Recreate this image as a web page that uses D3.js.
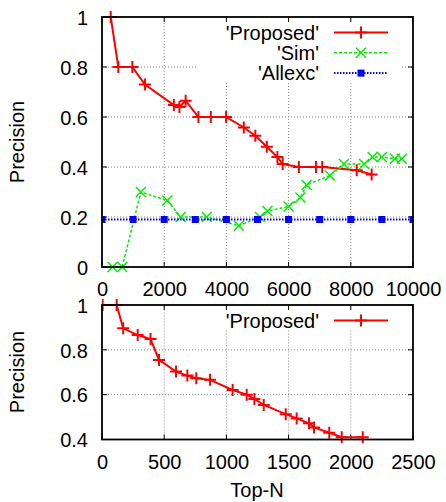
<html>
<head>
<script src="https://cdn.jsdelivr.net/npm/d3@7"></script>
<style>
  body { margin: 0; background: #fff; }
  text { font-family: "Liberation Sans", Arial, sans-serif; fill: #000; }
</style>
</head>
<body>
<svg width="446" height="502"></svg>
<script>
// top panel
const proposedTop = [[280,1.0],[525,0.8],[975,0.8],[1380,0.73],[2310,0.648],[2490,0.64],[2690,0.665],
  [3100,0.6],[3500,0.6],[3990,0.6],[4560,0.558],[4930,0.525],[5300,0.481],[5640,0.44],[5810,0.412],
  [6330,0.4],[6880,0.4],[7080,0.4],[8190,0.387],[8670,0.37]];
const simTop = [[340,0],[650,0],[1250,0.3],[2100,0.266],[2530,0.2],[3370,0.2],[4400,0.165],[5080,0.2],
  [5320,0.224],[6000,0.242],[6380,0.278],[6580,0.328],[7330,0.366],[7780,0.412],[8430,0.412],
  [8700,0.44],[9000,0.44],[9420,0.433],[9640,0.433]];
const allexcTop = [[0,0.19],[1000,0.19],[2000,0.19],[3000,0.19],[4000,0.19],[5000,0.19],
  [6000,0.19],[7000,0.19],[8000,0.19],[9000,0.19],[10000,0.19]];
const topXTicks = [0,2000,4000,6000,8000,10000];
const topYTicks = [0,0.2,0.4,0.6,0.8,1];

// bottom panel
const proposedBottom = [[5,1],[118,1],[170,0.896],[287,0.866],[390,0.848],[458,0.755],[595,0.703],
  [686,0.685],[758,0.673],[868,0.666],[1050,0.621],[1163,0.6],[1225,0.581],[1300,0.554],[1477,0.513],
  [1565,0.494],[1664,0.472],[1704,0.454],[1827,0.43],[1927,0.41],[2096,0.41]];
const bottomXTicks = [0,500,1000,1500,2000,2500];
const bottomYTicks = [0.4,0.6,0.8,1];

const svg = d3.select("svg");
const fs = 20;

function marker(g, kind, color, x, y) {
  if (kind === "plus") {
    g.append("path").attr("d", `M${x-6},${y}H${x+6}M${x},${y-6}V${y+6}`)
      .attr("stroke", color).attr("stroke-width", 2).attr("fill", "none");
  } else if (kind === "cross") {
    g.append("path").attr("d", `M${x-5},${y-5}L${x+5},${y+5}M${x-5},${y+5}L${x+5},${y-5}`)
      .attr("stroke", color).attr("stroke-width", 1.5).attr("fill", "none");
  } else {
    g.append("rect").attr("x", x-3.5).attr("y", y-3.5).attr("width", 7).attr("height", 7).attr("fill", color);
  }
}

function panel(opt) {
  const x = d3.scaleLinear().domain(opt.xDomain).range([102, 413]);
  const y = d3.scaleLinear().domain(opt.yDomain).range([opt.bottom, opt.top]);
  const g = svg.append("g");
  const id = "clip" + opt.top;
  svg.append("clipPath").attr("id", id).append("rect")
    .attr("x", 102).attr("y", opt.top - 8).attr("width", 311).attr("height", opt.bottom - opt.top + 16);

  // grid
  g.append("g").selectAll("line").data(opt.xTicks.slice(1, -1)).join("line")
    .attr("x1", d => x(d)).attr("x2", d => x(d)).attr("y1", opt.bottom).attr("y2", opt.top)
    .attr("stroke", "#888").attr("stroke-width", 1).attr("stroke-dasharray", "1,2");
  g.append("g").selectAll("line").data(opt.yTicks.slice(1, -1)).join("line")
    .attr("x1", 102).attr("x2", 413).attr("y1", d => y(d)).attr("y2", d => y(d))
    .attr("stroke", "#888").attr("stroke-width", 1).attr("stroke-dasharray", "1,2");

  // key box covers grid
  g.append("rect").attr("x", 197).attr("y", opt.top).attr("width", 203)
    .attr("height", opt.series.length * 20.5 + 4).attr("fill", "#fff");

  // axes via d3
  const ax = d3.axisBottom(x).tickValues(opt.xTicks).tickSize(0).tickPadding(0).tickFormat(d3.format("d"));
  const axG = g.append("g").attr("transform", `translate(0,${opt.bottom})`).call(ax);
  axG.select(".domain").remove();
  axG.selectAll("text").attr("font-size", fs).attr("y", opt.xLabelY - opt.bottom).attr("dy", 0)
    .attr("font-family", "Liberation Sans, Arial, sans-serif");
  const ay = d3.axisLeft(y).tickValues(opt.yTicks).tickSize(0).tickPadding(0).tickFormat(d => d3.format("")(+d.toFixed(1)));
  const ayG = g.append("g").attr("transform", "translate(88,0)").call(ay);
  ayG.select(".domain").remove();
  ayG.selectAll("text").attr("font-size", fs).attr("x", 0).attr("dy", "0.36em")
    .attr("font-family", "Liberation Sans, Arial, sans-serif");

  // inner ticks on all sides
  const tk = g.append("g").attr("stroke", "#000").attr("stroke-width", 1);
  opt.xTicks.forEach(d => {
    tk.append("line").attr("x1", x(d)).attr("x2", x(d)).attr("y1", opt.bottom).attr("y2", opt.bottom - 5);
    tk.append("line").attr("x1", x(d)).attr("x2", x(d)).attr("y1", opt.top).attr("y2", opt.top + 5);
  });
  opt.yTicks.forEach(d => {
    tk.append("line").attr("x1", 102).attr("x2", 107).attr("y1", y(d)).attr("y2", y(d));
    tk.append("line").attr("x1", 413).attr("x2", 408).attr("y1", y(d)).attr("y2", y(d));
  });

  // series
  const line = d3.line().x(d => x(d[0])).y(d => y(d[1]));
  const sg = g.append("g").attr("clip-path", `url(#${id})`);
  opt.series.forEach(s => {
    sg.append("path").datum(s.data).attr("d", line).attr("fill", "none")
      .attr("stroke", s.color).attr("stroke-width", s.width).attr("stroke-dasharray", s.dash);
    s.data.forEach(p => marker(sg, s.marker, s.color, x(p[0]), y(p[1])));
  });

  // key
  opt.series.forEach((s, i) => {
    const ky = opt.top + 15.5 + i * 20.3;
    g.append("text").attr("x", 319).attr("y", ky).attr("dy", "0.36em").attr("text-anchor", "end")
      .attr("font-size", fs).text(s.name);
    g.append("line").attr("x1", 334).attr("x2", 388).attr("y1", ky).attr("y2", ky)
      .attr("stroke", s.color).attr("stroke-width", s.width).attr("stroke-dasharray", s.dash);
    marker(g, s.marker, s.color, 361, ky);
  });

  // border
  g.append("rect").attr("x", 102).attr("y", opt.top).attr("width", 311).attr("height", opt.bottom - opt.top)
    .attr("fill", "none").attr("stroke", "#000").attr("stroke-width", 1.8);

  // y title
  g.append("text").attr("transform", `translate(24,${opt.titleY}) rotate(-90)`)
    .attr("text-anchor", "middle").attr("font-size", fs).text("Precision");
}

panel({
  xDomain: [0, 10000], yDomain: [0, 1], top: 17, bottom: 267, xLabelY: 295.5, titleY: 142,
  xTicks: topXTicks, yTicks: topYTicks,
  series: [
    {name: "'Proposed'", data: proposedTop, color: "#ff0000", width: 2, dash: null, marker: "plus"},
    {name: "'Sim'", data: simTop, color: "#00ee00", width: 1.5, dash: "3,2", marker: "cross"},
    {name: "'Allexc'", data: allexcTop, color: "#0000ff", width: 2, dash: "1.5,1.5", marker: "square"}
  ]
});

panel({
  xDomain: [0, 2500], yDomain: [0.4, 1], top: 305, bottom: 439.5, xLabelY: 469, titleY: 372,
  xTicks: bottomXTicks, yTicks: bottomYTicks,
  series: [
    {name: "'Proposed'", data: proposedBottom, color: "#ff0000", width: 2, dash: null, marker: "plus"}
  ]
});

svg.append("text").attr("x", 257).attr("y", 497).attr("text-anchor", "middle")
  .attr("font-size", fs).text("Top-N");
</script>
</body>
</html>
